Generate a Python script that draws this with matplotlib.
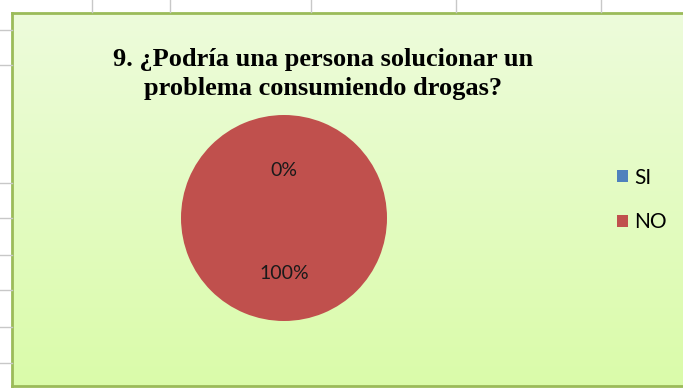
import matplotlib
matplotlib.use("Agg")
import matplotlib.pyplot as plt
import numpy as np
from matplotlib.patches import Rectangle

categories = ["SI", "NO"]
values = [0, 100]
labels_pct = ["0%", "100%"]
colors = ["#4F81BD", "#C0504D"]
title = "9. ¿Podría una persona solucionar un\nproblema consumiendo drogas?"

W, H = 683, 389
fig = plt.figure(figsize=(W / 100, H / 100), dpi=100)
fig.patch.set_facecolor("white")

# spreadsheet gridline stubs outside chart
for x in [92, 170, 311, 456, 601]:
    fig.add_artist(plt.Line2D([x / W, x / W], [1, 1 - 12 / H], color="#C8C8C8", lw=1))
for y in [30, 65, 183, 218, 255, 290, 327, 363]:
    fig.add_artist(plt.Line2D([0, 12 / W], [1 - y / H, 1 - y / H], color="#C8C8C8", lw=1))

# chart area with gradient
x0, y0, x1, y1 = 12, 13, 690, 386
bg = fig.add_axes([x0 / W, 1 - y1 / H, (x1 - x0) / W, (y1 - y0) / H])
top = np.array([0.93, 0.985, 0.86])
bot = np.array([0.855, 0.985, 0.665])
t = np.linspace(0, 1, 256)[:, None]
grad = top[None, :] * (1 - t) + bot[None, :] * t
bg.imshow(grad[:, None, :], aspect="auto", extent=[0, 1, 0, 1])
bg.set_xlim(0, 1)
bg.set_ylim(0, 1)
bg.set_xticks([])
bg.set_yticks([])
for s in bg.spines.values():
    s.set_edgecolor("#9BBB59")
    s.set_linewidth(2)

# pie
cx, cy, r = 284, 218, 103
ax = fig.add_axes([(cx - r) / W, 1 - (cy + r) / H, 2 * r / W, 2 * r / H])
wedges, _ = ax.pie(values, colors=colors, startangle=90, counterclock=False,
                   radius=1.0, wedgeprops=dict(linewidth=0))
ax.set_xlim(-1, 1)
ax.set_ylim(-1, 1)
ax.axis("off")
# percentage labels at wedge mid-angles
ang = 90.0
for v, lab in zip(values, labels_pct):
    span = v / sum(values) * 360
    mid = np.deg2rad(ang - span / 2)
    ang -= span
    ax.text(0.5 * np.cos(mid), 0.5 * np.sin(mid) - 0.035, lab, ha="center", va="center",
            fontsize=14, family="Lato", color="#1A1A1A")

fig.text(323 / W, 1 - 74 / H, title, ha="center", va="center", fontsize=19,
         family="Liberation Serif", fontweight="bold", linespacing=1.3)

handles = [Rectangle((0, 0), 1, 1, facecolor=c) for c in colors]
leg = fig.legend(handles, categories, loc="center left",
                 bbox_to_anchor=(598 / W, 1 - 200 / H), frameon=False,
                 prop=dict(family="Lato", size=15), handlelength=0.55,
                 handleheight=0.55, handletextpad=0.3, labelspacing=1.2)

fig.savefig("out.png", dpi=100)
